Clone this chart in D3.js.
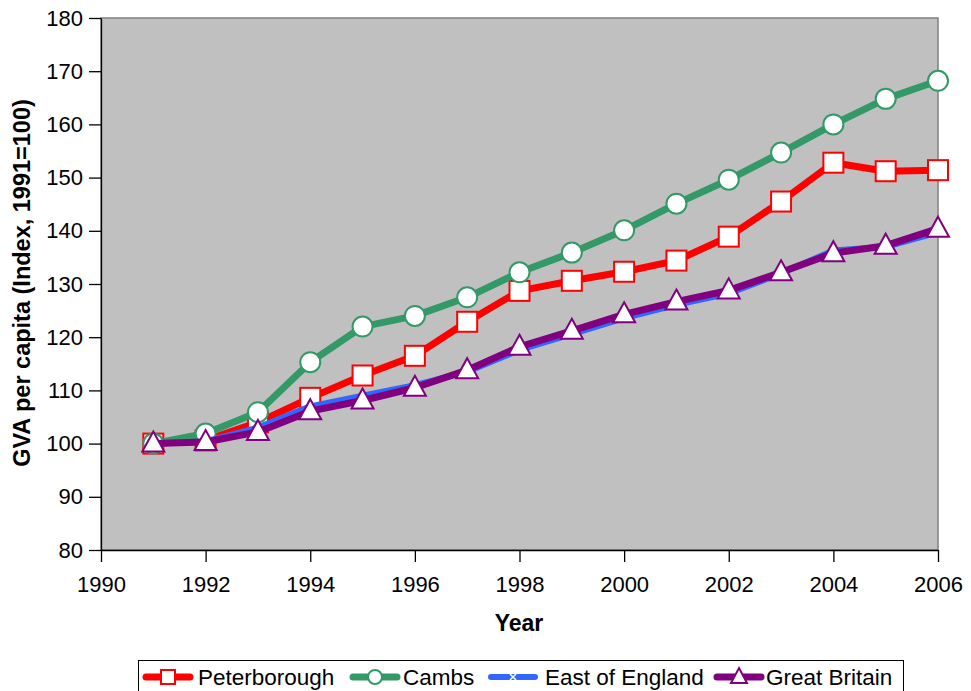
<!DOCTYPE html>
<html><head><meta charset="utf-8">
<script src="https://cdn.jsdelivr.net/npm/d3@7"></script>
<style>body{margin:0;background:#fff}svg{display:block}text{font-family:"Liberation Sans",Arial,sans-serif}</style>
</head><body>
<svg id="c" width="971" height="691"></svg>
<script>
const years = [1991,1992,1993,1994,1995,1996,1997,1998,1999,2000,2001,2002,2003,2004,2005,2006];
const peterborough = [100,100.6,104.0,108.6,112.8,116.5,122.9,128.7,130.6,132.3,134.4,138.9,145.5,152.8,151.2,151.4];
const cambs = [100,101.9,105.9,115.3,122.0,124.0,127.5,132.2,135.9,140.1,145.1,149.6,154.7,160.0,164.8,168.2];
const eastEngland = [100,100.4,103.0,107.0,109.0,111.0,113.5,117.6,120.6,123.6,126.1,128.2,132.0,136.3,137.0,139.7];
const greatBritain = [100,100.3,102.2,106.1,108.1,110.5,113.8,118.2,121.2,124.3,126.7,128.8,132.2,135.8,137.2,140.4];
const seriesNames = ["Peterborough","Cambs","East of England","Great Britain"];
const xTicks = [1990,1992,1994,1996,1998,2000,2002,2004,2006];
const yTicks = [80,90,100,110,120,130,140,150,160,170,180];

const series = [
  {name:seriesNames[0], values:peterborough, color:"#FF0000", marker:"square", w:7},
  {name:seriesNames[1], values:cambs, color:"#339966", marker:"circle", w:7},
  {name:seriesNames[2], values:eastEngland, color:"#3366FF", marker:"x", w:6},
  {name:seriesNames[3], values:greatBritain, color:"#800080", marker:"triangle", w:7}
];

const svg = d3.select("#c");
const L=101, R=938, T=18, B=550;
const x = d3.scaleLinear().domain([1990,2006]).range([L,R]);
const y = d3.scaleLinear().domain([80,180]).range([B,T]);

svg.append("rect").attr("x",L).attr("y",T).attr("width",R-L).attr("height",B-T)
  .attr("fill","#C0C0C0").attr("stroke","#808080").attr("stroke-width",1.5);

const yAx = svg.append("g").attr("transform",`translate(${L},0)`)
  .call(d3.axisLeft(y).tickValues(yTicks).tickSize(12).tickSizeOuter(0).tickPadding(6));
const xAx = svg.append("g").attr("transform",`translate(0,${B})`)
  .call(d3.axisBottom(x).tickValues(xTicks).tickFormat(d3.format("d")).tickSize(12).tickSizeOuter(0).tickPadding(4));
[yAx,xAx].forEach(a=>{
  a.selectAll("path,line").attr("stroke","#000").attr("stroke-width",1.3);
  a.selectAll("text").attr("font-size",22).attr("fill","#000").attr("font-family",'"Liberation Sans",Arial,sans-serif');
});
xAx.selectAll("text").attr("y",42).attr("dy",0);

svg.append("text").attr("x",519).attr("y",631).attr("text-anchor","middle")
  .attr("font-size",23).attr("font-weight","bold").text("Year");
svg.append("text").attr("transform","translate(30,283) rotate(-90)").attr("text-anchor","middle")
  .attr("font-size",23.5).attr("font-weight","bold").text("GVA per capita (Index, 1991=100)");

function drawMarker(g, type, cx, cy, color){
  if(type==="square"){
    g.append("rect").attr("x",cx-10).attr("y",cy-10).attr("width",20).attr("height",20)
      .attr("fill","#fff").attr("stroke",color).attr("stroke-width",2);
  } else if(type==="circle"){
    g.append("circle").attr("cx",cx).attr("cy",cy).attr("r",10)
      .attr("fill","#fff").attr("stroke",color).attr("stroke-width",2);
  } else if(type==="triangle"){
    g.append("path").attr("d",`M${cx},${cy-12}L${cx+11},${cy+8}L${cx-11},${cy+8}Z`)
      .attr("fill","#fff").attr("stroke",color).attr("stroke-width",2);
  } else {
    g.append("path").attr("d",`M${cx-3},${cy-3}L${cx+3},${cy+3}M${cx-3},${cy+3}L${cx+3},${cy-3}`)
      .attr("stroke","#fff").attr("stroke-width",1.5);
  }
}

const line = d3.line().x((d,i)=>x(years[i])).y(d=>y(d));
series.forEach(s=>{
  const g = svg.append("g");
  g.append("path").attr("d",line(s.values)).attr("fill","none").attr("stroke",s.color)
    .attr("stroke-width",s.w).attr("stroke-linejoin","round");
  s.values.forEach((v,i)=>drawMarker(g,s.marker,x(years[i]),y(v),s.color));
});

// legend
svg.append("rect").attr("x",138.5).attr("y",660.5).attr("width",765).attr("height",40)
  .attr("fill","#fff").attr("stroke","#000").attr("stroke-width",1);
const legLineX = [143,350,488,714];
const legTextX = [198,403,545,766];
const lg = svg.append("g");
series.forEach((s,i)=>{
  const cy = 677, cur = legLineX[i], mx = cur+25;
  lg.append("line").attr("x1",cur+3).attr("x2",cur+47).attr("y1",cy).attr("y2",cy)
    .attr("stroke",s.color).attr("stroke-width",s.w).attr("stroke-linecap","round");
  const mg = lg.append("g");
  if(s.marker==="square"){
    mg.append("rect").attr("x",mx-7).attr("y",cy-7).attr("width",14).attr("height",14).attr("fill","#fff").attr("stroke",s.color).attr("stroke-width",2);
  } else if(s.marker==="circle"){
    mg.append("circle").attr("cx",mx).attr("cy",cy).attr("r",7).attr("fill","#fff").attr("stroke",s.color).attr("stroke-width",2);
  } else if(s.marker==="triangle"){
    mg.append("path").attr("d",`M${mx},${cy-9}L${mx+8},${cy+6}L${mx-8},${cy+6}Z`).attr("fill","#fff").attr("stroke",s.color).attr("stroke-width",2);
  } else {
    drawMarker(mg,"x",mx,cy,s.color);
  }
  lg.append("text").attr("x",legTextX[i]).attr("y",cy+8).attr("font-size",22.5).text(s.name);
});
</script>
</body></html>
